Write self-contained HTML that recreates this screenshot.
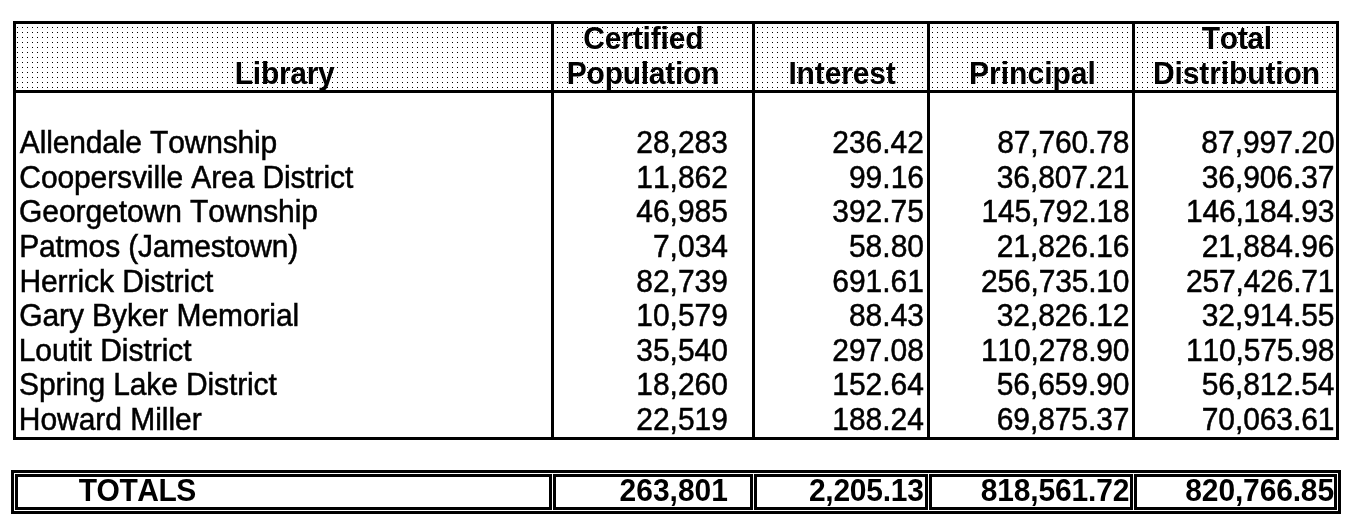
<!DOCTYPE html>
<html><head><meta charset="utf-8"><title>Library Distribution</title>
<style>
html,body{margin:0;padding:0;background:#fff;}
body{width:1354px;height:529px;position:relative;overflow:hidden;font-family:"Liberation Sans",Arial,sans-serif;color:#000;}
.l{position:absolute;background:#000;}
.hdr{position:absolute;left:16px;top:24px;width:1320px;height:66px;display:block;background:#fff;}
.t{position:absolute;white-space:nowrap;font-size:30px;line-height:34px;height:34px;font-kerning:none;font-variant-ligatures:none;
 transform:scaleY(1.02);transform-origin:0 27px;-webkit-text-stroke:0.5px #000;}
.b{font-weight:bold;-webkit-text-stroke:0;}
.n{transform:scaleY(1.065);}
.c{text-align:center;}
.r{text-align:right;}
</style></head><body>

<svg class="hdr" width="1320" height="66" viewBox="0 0 1320 66" shape-rendering="crispEdges"><defs><pattern id="dots" x="0" y="0" width="5" height="5" patternUnits="userSpaceOnUse"><rect x="1" y="3" width="1" height="1" fill="#000"/></pattern></defs><rect x="0" y="0" width="1320" height="66" fill="url(#dots)"/></svg>
<div class="l" style="left:13px;top:21px;width:1326px;height:3px"></div>
<div class="l" style="left:13px;top:90px;width:1326px;height:3px"></div>
<div class="l" style="left:13px;top:437px;width:1326px;height:3px"></div>
<div class="l" style="left:13px;top:21px;width:3px;height:419px"></div>
<div class="l" style="left:1336px;top:21px;width:3px;height:419px"></div>
<div class="l" style="left:551px;top:24px;width:3px;height:413px"></div>
<div class="l" style="left:752px;top:24px;width:3px;height:413px"></div>
<div class="l" style="left:927px;top:24px;width:3px;height:413px"></div>
<div class="l" style="left:1132px;top:24px;width:3px;height:413px"></div>
<div class="l" style="left:11px;top:470px;width:1330px;height:3px"></div>
<div class="l" style="left:11px;top:511px;width:1330px;height:3px"></div>
<div class="l" style="left:11px;top:473px;width:3px;height:38px"></div>
<div class="l" style="left:1338px;top:473px;width:3px;height:38px"></div>
<div class="l" style="left:15px;top:474px;width:537px;height:3px"></div>
<div class="l" style="left:15px;top:507px;width:537px;height:3px"></div>
<div class="l" style="left:15px;top:477px;width:3px;height:30px"></div>
<div class="l" style="left:549px;top:477px;width:3px;height:30px"></div>
<div class="l" style="left:553px;top:474px;width:200px;height:3px"></div>
<div class="l" style="left:553px;top:507px;width:200px;height:3px"></div>
<div class="l" style="left:553px;top:477px;width:3px;height:30px"></div>
<div class="l" style="left:750px;top:477px;width:3px;height:30px"></div>
<div class="l" style="left:754px;top:474px;width:174px;height:3px"></div>
<div class="l" style="left:754px;top:507px;width:174px;height:3px"></div>
<div class="l" style="left:754px;top:477px;width:3px;height:30px"></div>
<div class="l" style="left:925px;top:477px;width:3px;height:30px"></div>
<div class="l" style="left:929px;top:474px;width:204px;height:3px"></div>
<div class="l" style="left:929px;top:507px;width:204px;height:3px"></div>
<div class="l" style="left:929px;top:477px;width:3px;height:30px"></div>
<div class="l" style="left:1130px;top:477px;width:3px;height:30px"></div>
<div class="l" style="left:1134px;top:474px;width:203px;height:3px"></div>
<div class="l" style="left:1134px;top:507px;width:203px;height:3px"></div>
<div class="l" style="left:1134px;top:477px;width:3px;height:30px"></div>
<div class="l" style="left:1334px;top:477px;width:3px;height:30px"></div>
<div class="t b" style="top:57px;letter-spacing:-0.286px;left:84.677px;width:400px;text-align:center;">Library</div>
<div class="t b" style="top:22px;letter-spacing:-0.182px;left:443.319px;width:400px;text-align:center;">Certified</div>
<div class="t b" style="top:57px;letter-spacing:-0.252px;left:443.034px;width:400px;text-align:center;">Population</div>
<div class="t b" style="top:57px;letter-spacing:-0.132px;left:642.054px;width:400px;text-align:center;">Interest</div>
<div class="t b" style="top:57px;letter-spacing:0.016px;left:832.488px;width:400px;text-align:center;">Principal</div>
<div class="t b" style="top:22px;letter-spacing:-0.375px;left:1036.73px;width:400px;text-align:center;">Total</div>
<div class="t b" style="top:57px;letter-spacing:-0.093px;left:1036.49px;width:400px;text-align:center;">Distribution</div>
<div class="t " style="top:126px;letter-spacing:-0.158px;left:19.83px;">Allendale Township</div>
<div class="t n" style="top:126px;left:328px;width:400px;text-align:right;">28,283</div>
<div class="t n" style="top:126px;left:524px;width:400px;text-align:right;">236.42</div>
<div class="t n" style="top:126px;letter-spacing:-0.148px;left:729.282px;width:400px;text-align:right;">87,760.78</div>
<div class="t n" style="top:126px;letter-spacing:-0.028px;left:934.572px;width:400px;text-align:right;">87,997.20</div>
<div class="t " style="top:161px;letter-spacing:-0.112px;left:19.33px;">Coopersville Area District</div>
<div class="t n" style="top:161px;left:328px;width:400px;text-align:right;">11,862</div>
<div class="t n" style="top:161px;left:524px;width:400px;text-align:right;">99.16</div>
<div class="t n" style="top:161px;letter-spacing:-0.1px;left:729.3px;width:400px;text-align:right;">36,807.21</div>
<div class="t n" style="top:161px;letter-spacing:-0.1px;left:934.3px;width:400px;text-align:right;">36,906.37</div>
<div class="t " style="top:195px;letter-spacing:-0.073px;left:19.12px;">Georgetown Township</div>
<div class="t n" style="top:195px;left:328px;width:400px;text-align:right;">46,985</div>
<div class="t n" style="top:195px;left:524px;width:400px;text-align:right;">392.75</div>
<div class="t n" style="top:195px;letter-spacing:-0.21px;left:729.53px;width:400px;text-align:right;">145,792.18</div>
<div class="t n" style="top:195px;letter-spacing:-0.181px;left:934.289px;width:400px;text-align:right;">146,184.93</div>
<div class="t " style="top:230px;letter-spacing:-0.163px;left:19.26px;">Patmos (Jamestown)</div>
<div class="t n" style="top:230px;left:328px;width:400px;text-align:right;">7,034</div>
<div class="t n" style="top:230px;left:524px;width:400px;text-align:right;">58.80</div>
<div class="t n" style="top:230px;letter-spacing:-0.1px;left:729.3px;width:400px;text-align:right;">21,826.16</div>
<div class="t n" style="top:230px;letter-spacing:-0.1px;left:934.3px;width:400px;text-align:right;">21,884.96</div>
<div class="t " style="top:265px;letter-spacing:-0.063px;left:19.38px;">Herrick District</div>
<div class="t n" style="top:265px;left:328px;width:400px;text-align:right;">82,739</div>
<div class="t n" style="top:265px;left:524px;width:400px;text-align:right;">691.61</div>
<div class="t n" style="top:265px;letter-spacing:-0.19px;left:729.31px;width:400px;text-align:right;">256,735.10</div>
<div class="t n" style="top:265px;letter-spacing:-0.19px;left:934.31px;width:400px;text-align:right;">257,426.71</div>
<div class="t " style="top:299px;letter-spacing:-0.095px;left:19.2px;">Gary Byker Memorial</div>
<div class="t n" style="top:299px;left:328px;width:400px;text-align:right;">10,579</div>
<div class="t n" style="top:299px;left:524px;width:400px;text-align:right;">88.43</div>
<div class="t n" style="top:299px;letter-spacing:-0.1px;left:729.3px;width:400px;text-align:right;">32,826.12</div>
<div class="t n" style="top:299px;letter-spacing:-0.1px;left:934.3px;width:400px;text-align:right;">32,914.55</div>
<div class="t " style="top:334px;letter-spacing:-0.037px;left:18.72px;">Loutit District</div>
<div class="t n" style="top:334px;left:328px;width:400px;text-align:right;">35,540</div>
<div class="t n" style="top:334px;left:524px;width:400px;text-align:right;">297.08</div>
<div class="t n" style="top:334px;letter-spacing:-0.19px;left:729.31px;width:400px;text-align:right;">110,278.90</div>
<div class="t n" style="top:334px;letter-spacing:-0.19px;left:934.31px;width:400px;text-align:right;">110,575.98</div>
<div class="t " style="top:368px;letter-spacing:-0.127px;left:19.09px;">Spring Lake District</div>
<div class="t n" style="top:368px;left:328px;width:400px;text-align:right;">18,260</div>
<div class="t n" style="top:368px;left:524px;width:400px;text-align:right;">152.64</div>
<div class="t n" style="top:368px;letter-spacing:-0.1px;left:729.3px;width:400px;text-align:right;">56,659.90</div>
<div class="t n" style="top:368px;letter-spacing:-0.1px;left:934.3px;width:400px;text-align:right;">56,812.54</div>
<div class="t " style="top:403px;letter-spacing:-0.035px;left:18.78px;">Howard Miller</div>
<div class="t n" style="top:403px;left:328px;width:400px;text-align:right;">22,519</div>
<div class="t n" style="top:403px;left:524px;width:400px;text-align:right;">188.24</div>
<div class="t n" style="top:403px;letter-spacing:-0.1px;left:729.3px;width:400px;text-align:right;">69,875.37</div>
<div class="t n" style="top:403px;letter-spacing:-0.1px;left:934.3px;width:400px;text-align:right;">70,063.61</div>
<div class="t b n" style="top:474px;letter-spacing:-0.453px;left:-62.7365px;width:400px;text-align:center;">TOTALS</div>
<div class="t b n" style="top:474px;left:328px;width:400px;text-align:right;">263,801</div>
<div class="t b n" style="top:474px;letter-spacing:-0.247px;left:523.713px;width:400px;text-align:right;">2,205.13</div>
<div class="t b n" style="top:474px;letter-spacing:-0.171px;left:729.189px;width:400px;text-align:right;">818,561.72</div>
<div class="t b n" style="top:474px;letter-spacing:-0.157px;left:933.923px;width:400px;text-align:right;">820,766.85</div>
</body></html>
